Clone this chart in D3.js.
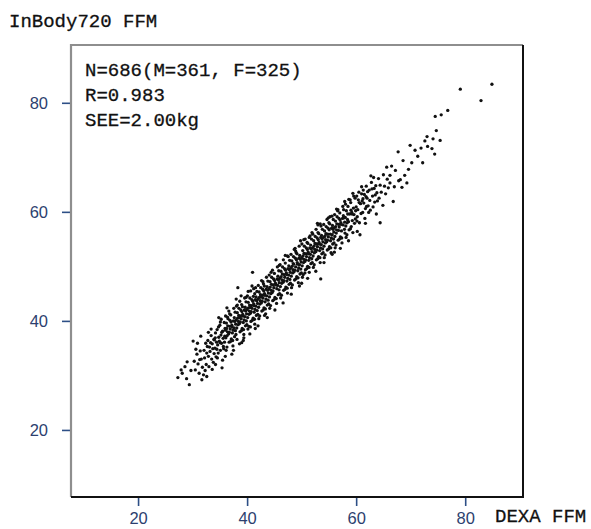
<!DOCTYPE html>
<html>
<head>
<meta charset="utf-8">
<script src="https://cdn.jsdelivr.net/npm/d3@7"></script>
<style>
  body { margin: 0; background: #fff; }
  svg { display: block; }
  .mono { font-family: "Liberation Mono", "DejaVu Sans Mono", monospace; font-size: 19px; fill: #111; stroke: #111; stroke-width: 0.3; }
  .tick text { font-family: "Liberation Sans", Arial, sans-serif; font-size: 16.5px; fill: #2d3f6f; }
  .tick line { stroke: #2d4f86; stroke-width: 1.6; }
</style>
</head>
<body>
<svg id="chart" width="591" height="529"></svg>
<script>
/* InBody720 vs DEXA fat-free mass scatter. */

// [DEXA FFM, InBody720 FFM] in kg
const points = [
  [27.3,29.6],[29.4,28.3],[28.6,31.6],[28.1,30.4],[29.0,32.5],[29.7,30.9],[28.9,29.4],[27.9,31.0],
  [30.1,36.3],[30.3,32.6],[30.5,31.0],[30.8,33.9],[31.0,32.1],[31.2,30.4],[31.4,34.5],[31.6,33.0],
  [31.8,31.5],[30.6,34.8],[32.0,30.1],[31.3,32.9],
  [32.1,34.6],[32.2,33.2],[32.4,35.9],[32.5,32.0],[32.6,34.1],[32.8,36.4],[32.9,33.5],[33.0,31.6],
  [33.1,35.2],[33.2,34.4],[33.4,37.3],[33.5,33.0],[33.6,35.8],[33.7,34.9],[33.8,32.4],[33.9,36.6],
  [32.3,30.9],[33.3,36.0],[32.7,35.3],[33.95,34.0],
  [34.0,36.5],[34.1,35.0],[34.2,37.8],[34.3,33.4],[34.4,36.1],[34.5,38.4],[34.6,35.6],[34.7,34.1],
  [34.8,37.0],[34.9,36.3],[35.0,39.2],[35.1,34.6],[35.2,37.4],[35.3,35.9],[35.4,31.4],[35.5,38.1],
  [35.6,36.8],[35.7,34.9],[35.8,39.7],[35.9,37.2],[34.15,36.9],[34.45,34.8],[34.75,38.9],[35.05,36.0],
  [35.35,37.9],[35.65,35.3],[35.95,38.6],[34.55,33.2],[35.25,40.3],[35.85,36.1],
  [36.0,38.3],[36.1,36.9],[36.2,39.6],[36.3,35.2],[36.4,38.0],[36.5,40.4],[36.6,37.6],[36.7,36.1],
  [36.8,39.0],[36.9,38.5],[37.0,41.1],[37.1,36.7],[37.2,39.2],[37.3,37.8],[37.4,35.4],[37.5,40.0],
  [37.6,38.7],[37.7,37.1],[37.8,41.6],[37.9,39.4],[36.05,40.9],[36.35,37.3],[36.65,41.8],[36.95,36.2],
  [37.25,38.9],[37.55,42.3],[37.85,38.2],[36.15,34.6],[36.45,39.1],[36.75,37.9],[37.05,39.8],[37.35,36.4],
  [37.65,40.6],[37.95,37.5],[36.25,38.6],[36.85,40.1],[37.45,38.3],[37.75,39.9],
  [38.0,40.2],[38.1,38.7],[38.2,41.5],[38.3,46.1],[38.4,39.9],[38.5,42.3],[38.6,39.5],[38.7,38.0],
  [38.8,40.9],[38.9,40.4],[39.0,43.0],[39.1,38.6],[39.2,41.2],[39.3,39.7],[39.4,37.5],[39.5,42.0],
  [39.6,40.8],[39.7,39.1],[39.8,43.5],[39.9,41.3],[38.05,42.7],[38.35,39.3],[38.65,43.6],[38.95,38.2],
  [39.25,40.9],[39.55,44.2],[39.85,40.0],[38.15,36.6],[38.45,41.0],[38.75,39.8],[39.05,41.7],[39.35,38.4],
  [39.65,42.5],[39.95,39.3],[38.25,40.5],[38.85,42.0],[39.45,40.2],[39.75,41.8],[38.55,40.6],[39.15,42.6],
  [39.4,36.9],[38.9,44.6],
  [40.0,42.1],[40.1,40.6],[40.2,43.4],[40.3,39.0],[40.4,41.8],[40.5,44.2],[40.6,41.4],[40.7,39.9],
  [40.8,42.8],[40.9,42.3],[41.0,48.9],[41.1,40.5],[41.2,43.1],[41.3,41.6],[41.4,39.4],[41.5,43.9],
  [41.6,42.7],[41.7,41.0],[41.8,45.4],[41.9,43.2],[40.05,44.6],[40.35,41.2],[40.65,45.5],[40.95,40.1],
  [41.25,42.8],[41.55,46.1],[41.85,41.9],[40.15,38.5],[40.45,42.9],[40.75,41.7],[41.05,43.6],[41.35,40.3],
  [41.65,44.4],[41.95,41.2],[40.25,42.4],[40.85,43.9],[41.45,42.1],[41.75,43.7],[40.55,42.5],[41.15,44.5],
  [41.4,45.0],[40.6,38.9],
  [42.0,44.0],[42.1,42.5],[42.2,45.3],[42.3,40.9],[42.4,43.7],[42.5,46.1],[42.6,43.3],[42.7,41.8],
  [42.8,44.7],[42.9,44.2],[43.0,46.8],[43.1,42.4],[43.2,45.0],[43.3,43.5],[43.4,41.3],[43.5,45.8],
  [43.6,44.6],[43.7,42.9],[43.8,47.3],[43.9,45.1],[42.05,46.5],[42.35,43.1],[42.65,47.4],[42.95,42.0],
  [43.25,44.7],[43.55,48.0],[43.85,43.8],[42.15,40.4],[42.45,44.8],[42.75,43.6],[43.05,45.5],[43.35,42.2],
  [43.65,46.3],[43.95,43.1],[42.25,44.3],[42.85,45.8],[43.45,44.0],[43.75,45.6],[42.55,44.4],[43.15,46.4],
  [44.0,45.9],[44.1,44.4],[44.2,47.2],[44.3,42.8],[44.4,45.6],[44.5,48.0],[44.6,45.2],[44.7,43.7],
  [44.8,46.6],[44.9,46.1],[45.0,48.7],[45.1,44.3],[45.2,46.9],[45.3,51.2],[45.4,43.2],[45.5,47.7],
  [45.6,46.5],[45.7,44.8],[45.8,49.2],[45.9,47.0],[44.05,48.4],[44.35,45.0],[44.65,49.3],[44.95,43.9],
  [45.25,46.6],[45.55,49.9],[45.85,45.7],[44.15,42.3],[44.45,46.7],[44.75,45.5],[45.05,47.4],[45.35,44.1],
  [45.65,48.2],[45.95,45.0],[44.25,46.2],[44.85,47.7],[45.45,45.9],[45.75,47.5],
  [46.0,47.8],[46.1,46.3],[46.2,49.1],[46.3,44.7],[46.4,47.5],[46.5,49.9],[46.6,47.1],[46.7,45.6],
  [46.8,48.5],[46.9,48.0],[47.0,50.6],[47.1,46.2],[47.2,48.8],[47.3,47.3],[47.4,45.1],[47.5,49.6],
  [47.6,48.4],[47.7,46.7],[47.8,51.1],[47.9,48.9],[46.05,50.3],[46.35,46.9],[46.65,51.2],[46.95,45.8],
  [47.25,48.5],[47.55,51.8],[47.85,47.6],[46.15,44.2],[46.45,48.6],[46.75,47.4],[47.05,49.3],[47.35,46.0],
  [47.65,50.1],[47.95,46.9],[46.25,48.1],[46.85,49.6],[47.45,47.8],[47.75,49.4],
  [48.0,49.7],[48.1,48.2],[48.2,51.0],[48.3,46.6],[48.4,49.4],[48.5,51.8],[48.6,49.0],[48.7,47.5],
  [48.8,53.3],[48.9,49.9],[49.0,52.5],[49.1,48.1],[49.2,50.7],[49.3,49.2],[49.4,47.0],[49.5,51.5],
  [49.6,50.3],[49.7,48.6],[49.8,54.7],[49.9,50.8],[48.05,52.2],[48.35,48.8],[48.65,53.1],[48.95,47.7],
  [49.25,50.4],[49.55,53.7],[49.85,49.5],[48.15,46.1],[48.45,50.5],[48.75,49.3],[49.05,51.2],[49.35,47.9],
  [49.65,52.0],[49.95,48.8],[48.25,50.0],[48.85,51.5],[49.45,49.7],[49.75,51.3],[48.55,50.4],[49.15,52.3],
  [50.0,51.6],[50.1,50.1],[50.2,52.9],[50.3,48.5],[50.4,51.3],[50.5,53.7],[50.6,50.9],[50.7,49.4],
  [50.8,52.3],[50.9,51.8],[51.0,54.4],[51.1,50.0],[51.2,52.6],[51.3,51.1],[51.4,48.9],[51.5,53.4],
  [51.6,52.2],[51.7,50.5],[51.8,55.0],[51.9,52.7],[50.05,54.1],[50.35,50.7],[50.65,55.0],[50.95,49.6],
  [51.25,52.3],[51.55,55.6],[51.85,51.4],[50.15,48.0],[50.45,52.4],[50.75,51.2],[51.05,53.1],[51.35,49.8],
  [51.65,53.9],[51.95,50.7],[50.25,51.9],[50.85,53.4],[51.45,51.6],[51.75,53.2],[50.55,52.3],[51.15,54.2],
  [51.4,55.3],[50.6,48.8],
  [52.0,53.4],[52.1,51.9],[52.2,54.7],[52.3,50.3],[52.4,53.1],[52.5,55.5],[52.6,52.7],[52.7,51.2],
  [52.8,54.1],[52.9,53.6],[53.0,56.2],[53.1,51.8],[53.2,54.4],[53.3,52.9],[53.4,50.7],[53.5,47.7],
  [53.6,54.0],[53.7,52.3],[53.8,56.8],[53.9,54.5],[52.05,55.9],[52.35,52.5],[52.65,56.8],[52.95,51.4],
  [53.25,54.1],[53.55,57.4],[53.85,53.2],[52.15,49.8],[52.45,54.2],[52.75,53.0],[53.05,54.9],[53.35,51.6],
  [53.65,55.7],[53.95,52.5],[52.25,53.7],[52.85,55.2],[53.45,53.4],[53.75,55.0],[52.55,54.1],[53.15,56.0],
  [53.5,55.3],[52.9,57.9],
  [54.0,55.3],[54.1,53.7],[54.2,56.5],[54.3,52.1],[54.4,54.9],[54.5,57.3],[54.6,54.5],[54.7,53.0],
  [54.8,55.9],[54.9,55.4],[55.0,58.0],[55.1,53.6],[55.2,59.1],[55.3,54.7],[55.4,52.5],[55.5,57.0],
  [55.6,55.8],[55.7,54.1],[55.8,58.6],[55.9,56.3],[54.05,57.7],[54.35,54.3],[54.65,58.6],[54.95,53.2],
  [55.25,55.9],[55.55,59.2],[55.85,55.0],[54.15,51.6],[54.45,56.0],[54.75,54.8],[55.05,56.7],[55.35,53.4],
  [55.65,57.5],[55.95,54.3],[54.25,55.5],[54.85,57.0],[55.45,55.2],[55.75,56.8],[54.55,55.9],[55.15,57.8],
  [56.0,57.1],[56.1,55.5],[56.2,58.3],[56.3,53.9],[56.4,56.7],[56.5,59.1],[56.6,60.2],[56.7,54.8],
  [56.8,57.7],[56.9,57.2],[57.0,59.8],[57.1,55.4],[57.2,58.0],[57.3,56.5],[57.4,54.3],[57.5,58.8],
  [57.6,57.6],[57.7,60.4],[57.8,58.9],[57.9,58.1],[56.05,59.5],[56.35,56.1],[56.65,60.4],[56.95,55.0],
  [57.25,57.7],[57.55,61.0],[57.85,56.8],[56.15,53.4],[56.45,57.8],[56.75,56.6],[57.05,58.5],[57.35,55.2],
  [57.65,59.3],[57.95,56.1],[56.25,57.3],[56.85,58.8],
  [58.0,59.0],[58.1,57.4],[58.2,60.2],[58.3,55.8],[58.4,58.6],[58.5,61.0],[58.6,58.2],[58.7,56.7],
  [58.8,59.6],[58.9,62.2],[59.0,61.7],[59.1,57.3],[59.2,59.9],[59.3,58.4],[59.4,56.2],[59.5,60.7],
  [59.6,59.5],[59.7,57.9],[59.8,62.5],[59.9,60.2],[58.05,61.4],[58.35,58.0],[58.65,62.3],[58.95,56.9],
  [59.25,59.6],[59.55,62.9],[59.85,58.7],[58.15,55.3],[58.45,59.6],[59.05,60.3],
  [60.0,60.9],[60.2,59.1],[60.4,62.2],[60.6,58.0],[60.7,55.8],[60.8,61.5],[61.0,63.3],[61.2,59.9],
  [61.3,64.0],[61.4,61.6],[61.6,58.8],[61.8,62.8],[61.9,61.0],[60.1,62.9],[60.3,60.4],[60.5,63.6],
  [60.9,59.7],[61.1,62.0],[61.5,63.2],[61.7,60.6],[60.15,58.3],[60.55,61.7],[61.25,62.4],[61.85,64.7],
  [62.0,62.5],[62.2,61.1],[62.4,64.0],[62.6,60.3],[62.9,64.2],[63.0,62.9],[63.2,66.3],[63.4,61.8],
  [63.6,64.8],[63.8,63.5],[62.1,63.7],[62.5,62.1],[62.8,65.4],[63.1,60.9],[63.5,63.1],[63.9,62.0],
  [62.3,59.9],[63.3,64.3],
  [64.4,64.9],[64.4,58.0],[64.9,61.2],[65.4,63.3],[64.1,66.1],[64.6,63.6],[65.0,66.8],[65.2,64.7],
  [65.7,66.0],[65.9,64.4],[64.2,62.5],[65.6,68.2],
  [66.2,66.7],[66.2,65.3],[66.8,61.9],[67.8,65.7],[67.7,71.0],[66.5,68.4],[67.2,67.6],[67.0,64.6],
  [68.1,65.9],
  [68.9,66.7],[69.3,65.3],[68.4,64.5],[69.6,67.8],[69.9,72.2],[68.6,69.4],
  [70.2,69.0],[71.9,71.7],[72.2,69.0],[70.8,71.3],[71.3,70.2],
  [73.0,73.8],[73.1,72.0],[73.9,71.6],[74.1,73.4],[72.6,73.0],
  [74.4,70.6],[74.5,77.5],[74.7,74.9],[75.4,73.1],[75.6,77.8],
  [76.8,78.6],[79.1,82.5],[82.9,80.4],[84.9,83.4]
];

// points on the fuzzy upper and lower edges of the band
const edgePoints = [
  [31.5,37.2],[32.6,29.8],[33.4,38.5],[34.2,32.0],[35.1,39.8],[36.0,33.5],[36.8,41.3],[37.5,34.6],
  [38.2,42.9],[39.0,36.0],[39.8,44.3],[40.5,37.6],[41.2,45.9],[42.0,39.1],[42.9,47.2],[43.7,40.6],
  [44.4,48.9],[45.1,42.0],[45.9,50.2],[46.6,43.3],[47.4,51.9],[48.1,44.9],[48.9,52.8],[49.6,46.4],
  [50.4,54.9],[51.1,47.8],[51.9,56.2],[52.6,49.1],[53.4,57.8],[54.1,50.7],[54.9,58.9],[55.6,52.2],
  [56.4,60.5],[57.1,53.3],[57.9,61.9],[58.6,54.7],[59.4,63.4],[60.2,56.4],[61.0,64.6],[61.7,57.9],
  [62.7,66.6],[63.7,59.6],[36.4,40.7],[38.6,35.8],[40.9,46.4],[43.2,41.0],[47.0,52.0],[50.0,46.9],
  [53.0,57.6],[56.0,52.6],
  [30.9,35.9],[31.7,29.2],[32.9,37.9],[33.6,31.1],[34.8,40.6],[35.5,32.8],[36.3,42.4],[37.2,33.9],
  [38.0,44.0],[39.3,36.4],[40.2,45.4],[41.5,38.6]
];

const xTicks = [20, 40, 60, 80];
const yTicks = [20, 40, 60, 80];
const statLines = ["N=686(M=361, F=325)", "R=0.983", "SEE=2.00kg"];
const yTitle = "InBody720 FFM";
const xTitle = "DEXA FFM";

const frame = { left: 71, top: 45, right: 523, bottom: 497 };

const svg = d3.select("#chart");

const x = d3.scaleLinear().domain([7.7, 90.6]).range([frame.left, frame.right]);
const y = d3.scaleLinear().domain([7.7, 90.6]).range([frame.bottom, frame.top]);

// dots
svg.append("g")
  .selectAll("circle")
  .data(points.concat(edgePoints))
  .join("circle")
  .attr("cx", (d) => x(d[0]))
  .attr("cy", (d) => y(d[1]))
  .attr("r", 1.65)
  .attr("fill", "#111");

// axes (ticks only, frame drawn below)
const yAxis = svg.append("g")
  .attr("transform", `translate(${frame.left - 1},0)`)
  .call(d3.axisLeft(y).tickValues(yTicks).tickSize(8).tickPadding(14).tickFormat(d3.format("d")));
yAxis.select(".domain").remove();

const xAxis = svg.append("g")
  .attr("transform", `translate(0,${frame.bottom + 1})`)
  .call(d3.axisBottom(x).tickValues(xTicks).tickSize(8).tickPadding(6).tickFormat(d3.format("d")));
xAxis.select(".domain").remove();

// box: light top/left, dark bottom/right
svg.append("path")
  .attr("d", `M${frame.left},${frame.bottom}V${frame.top}H${frame.right}`)
  .attr("fill", "none").attr("stroke", "#8e8e8e").attr("stroke-width", 2.2);
svg.append("path")
  .attr("d", `M${frame.left},${frame.bottom}H${frame.right}V${frame.top}`)
  .attr("fill", "none").attr("stroke", "#111").attr("stroke-width", 2);

// titles
svg.append("text").attr("class", "mono").attr("x", 9).attr("y", 27).text(yTitle);
svg.append("text").attr("class", "mono").attr("x", 495).attr("y", 522).text(xTitle);

svg.append("g")
  .selectAll("text")
  .data(statLines)
  .join("text")
  .attr("class", "mono")
  .attr("x", 85)
  .attr("y", (d, i) => 76 + i * 25)
  .text((d) => d);
</script>
</body>
</html>
